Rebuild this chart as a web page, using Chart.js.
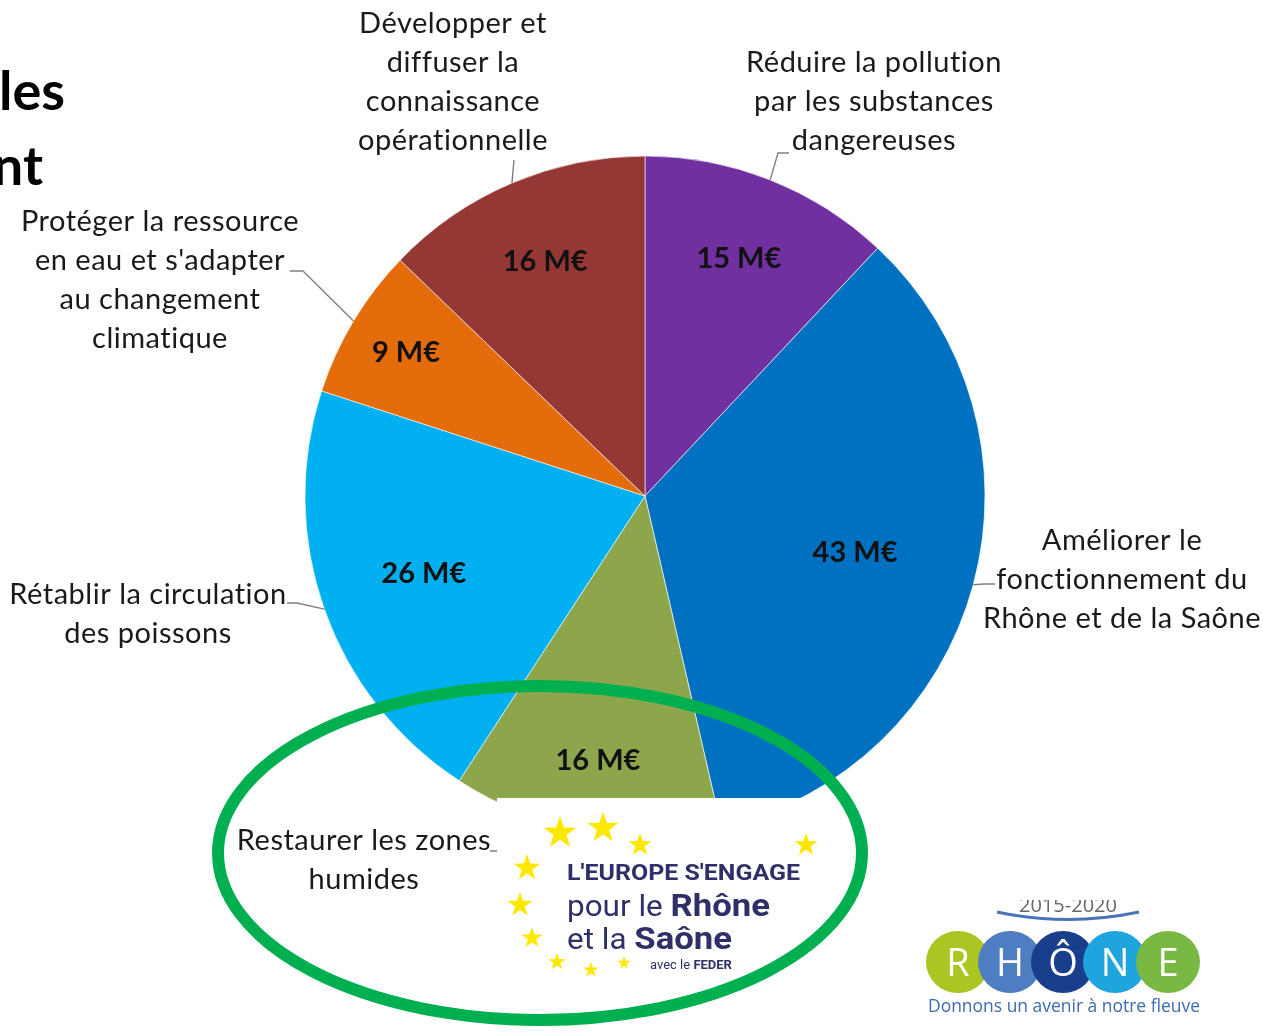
<!DOCTYPE html>
<html>
<head>
<meta charset="utf-8">
<script src="https://cdn.jsdelivr.net/npm/chart.js@4.4.1/dist/chart.umd.min.js"></script>
<style>
html, body { margin: 0; padding: 0; background: #fff; overflow: hidden; }
#wrap { position: relative; width: 1263px; height: 1032px; }
#pie, #deco { position: absolute; left: 0; top: 0; }
</style>
</head>
<body>
<div id="wrap">
  <canvas id="pie" width="1263" height="1032"></canvas>
  <svg id="deco" width="1263" height="1032" xmlns="http://www.w3.org/2000/svg">
    <!-- bits of the slide title, cut by the left edge -->
    <text x="65" y="110" text-anchor="end" font-family="Lato" font-weight="700" font-size="54" fill="#000">les</text>
    <text x="43" y="185" text-anchor="end" font-family="Lato" font-weight="700" font-size="54" fill="#000">nt</text>

    <!-- EU logo on its white box -->
    <rect x="497" y="798" width="330" height="190" fill="#fff"></rect>
    <g id="euStars" fill="#FFE800"></g>
    <text x="567" y="880" font-family="Roboto" font-weight="700" font-size="22" fill="#2F3068" textLength="233" lengthAdjust="spacingAndGlyphs">L'EUROPE S'ENGAGE</text>
    <text x="567" y="916" font-family="Roboto" font-size="29" fill="#2F3068" textLength="203" lengthAdjust="spacingAndGlyphs">pour le <tspan font-weight="700" font-size="32">Rhône</tspan></text>
    <text x="567" y="949" font-family="Roboto" font-size="29" fill="#2F3068" textLength="165" lengthAdjust="spacingAndGlyphs">et la <tspan font-weight="700" font-size="32">Saône</tspan></text>
    <text x="650" y="969" font-family="Roboto" font-size="13" fill="#2F3068">avec le <tspan font-weight="700">FEDER</tspan></text>

    <!-- green highlight ring -->
    <ellipse cx="540" cy="853" rx="322" ry="167" fill="none" stroke="#00B050" stroke-width="12"></ellipse>

    <!-- RHONE 2015-2020 logo -->
    <clipPath id="topCut"><rect x="900" y="900" width="340" height="40"></rect></clipPath>
    <text x="1068" y="912" text-anchor="middle" font-family="Open Sans" font-size="20" fill="#666" clip-path="url(#topCut)">2015-2020</text>
    <path d="M997 912 Q1068 927 1139 912" fill="none" stroke="#4A74B8" stroke-width="3"></path>
    <g font-family="Open Sans" font-size="38" fill="#fff" text-anchor="middle">
      <ellipse cx="958" cy="962" rx="32" ry="31" fill="#A9C623"></ellipse>
      <ellipse cx="1010" cy="962" rx="32" ry="31" fill="#4E7DC1"></ellipse>
      <ellipse cx="1063" cy="962" rx="32" ry="31" fill="#183E8C"></ellipse>
      <ellipse cx="1115" cy="962" rx="32" ry="31" fill="#1EA5DE"></ellipse>
      <ellipse cx="1168" cy="962" rx="32" ry="31" fill="#78B843"></ellipse>
      <text x="958" y="976">R</text>
      <text x="1010" y="976">H</text>
      <text x="1063" y="976">Ô</text>
      <text x="1115" y="976">N</text>
      <text x="1168" y="976">E</text>
    </g>
    <text x="1064" y="1012" text-anchor="middle" font-family="Open Sans" font-size="18" fill="#3D6CB2" textLength="272" lengthAdjust="spacingAndGlyphs">Donnons un avenir à notre fleuve</text>
  </svg>
</div>
<script>
// slices, clockwise from 12 o'clock
const categories = [
    'Réduire la pollution par les substances dangereuses',
    'Améliorer le fonctionnement du Rhône et de la Saône',
    'Restaurer les zones humides',
    'Rétablir la circulation des poissons',
    "Protéger la ressource en eau et s'adapter au changement climatique",
    'Développer et diffuser la connaissance opérationnelle'
];
const amounts = [15, 43, 16, 26, 9, 16]; // M€
const labelLines = [
    ['Réduire la pollution', 'par les substances', 'dangereuses'],
    ['Améliorer le', 'fonctionnement du', 'Rhône et de la Saône'],
    ['Restaurer les zones', 'humides'],
    ['Rétablir la circulation', 'des poissons'],
    ['Protéger la ressource', "en eau et s'adapter", 'au changement', 'climatique'],
    ['Développer et', 'diffuser la', 'connaissance', 'opérationnelle']
];
const sliceColors = ['#7030A0', '#0070C0', '#8DA64C', '#00B0F0', '#E46C0A', '#953735'];

// where the value sits inside each slice, as a share of the radius
const valueRadius = [0.75, 0.64, 0.79, 0.69, 0.82, 0.75];
// outside labels: first line centre, leader elbow and end
const outerLayout = [
    { x: 874, y: 63, elbow: [778, 153], tail: [789, 153] },
    { x: 1122, y: 541, elbow: [984, 584], tail: [995, 584] },
    { x: 364, y: 841, elbow: [497, 851], tail: [490, 851] },
    { x: 148, y: 595, elbow: [297, 603], tail: [287, 603] },
    { x: 160, y: 222, elbow: [303, 271], tail: [290, 271] },
    { x: 453, y: 24, elbow: [514, 160], tail: [514, 160] }
];

const sliceLabels = {
    id: 'sliceLabels',
    afterDatasetsDraw(chart) {
        const ctx = chart.ctx;
        const arcs = chart.getDatasetMeta(0).data;
        ctx.save();
        ctx.textAlign = 'center';
        ctx.textBaseline = 'middle';
        arcs.forEach((arc, i) => {
            const mid = (arc.startAngle + arc.endAngle) / 2;
            const r = arc.outerRadius * valueRadius[i];
            ctx.font = 'bold 29px Lato';
            ctx.letterSpacing = '0px';
            ctx.fillStyle = '#111';
            ctx.fillText(amounts[i] + ' M€', arc.x + Math.cos(mid) * r, arc.y + Math.sin(mid) * r);

            const lay = outerLayout[i];
            ctx.strokeStyle = '#808080';
            ctx.lineWidth = 1.4;
            ctx.beginPath();
            ctx.moveTo(arc.x + Math.cos(mid) * arc.outerRadius, arc.y + Math.sin(mid) * arc.outerRadius);
            ctx.lineTo(lay.elbow[0], lay.elbow[1]);
            ctx.lineTo(lay.tail[0], lay.tail[1]);
            ctx.stroke();

            ctx.font = '29px Lato';
            ctx.letterSpacing = '0.5px';
            ctx.fillStyle = '#1a1a1a';
            labelLines[i].forEach((line, k) => ctx.fillText(line, lay.x, lay.y + k * 39));
        });
        ctx.restore();
    }
};

new Chart(document.getElementById('pie'), {
    type: 'pie',
    data: {
        labels: categories,
        datasets: [{
            data: amounts,
            backgroundColor: sliceColors,
            borderColor: 'rgba(255,255,255,0.6)',
            borderWidth: 1
        }]
    },
    options: {
        responsive: false,
        animation: false,
        events: [],
        radius: 340,
        layout: { padding: { left: 305, right: 278, top: 156, bottom: 196 } },
        plugins: { legend: { display: false }, tooltip: { enabled: false } }
    },
    plugins: [sliceLabels]
});

// EU stars
const starSpots = [[560, 833, 17], [603, 828, 16], [640, 845, 12], [527, 868, 14], [520, 905, 13],
    [532, 938, 11], [557, 962, 9], [591, 970, 8], [624, 963, 7], [806, 845, 12]];
const starGroup = document.getElementById('euStars');
starSpots.forEach(([cx, cy, R]) => {
    const pts = [];
    for (let k = 0; k < 10; k++) {
        const a = -Math.PI / 2 + k * Math.PI / 5;
        const rr = k % 2 ? R * 0.4 : R;
        pts.push((cx + Math.cos(a) * rr).toFixed(1) + ',' + (cy + Math.sin(a) * rr).toFixed(1));
    }
    const p = document.createElementNS('http://www.w3.org/2000/svg', 'polygon');
    p.setAttribute('points', pts.join(' '));
    starGroup.appendChild(p);
});
</script>
</body>
</html>
